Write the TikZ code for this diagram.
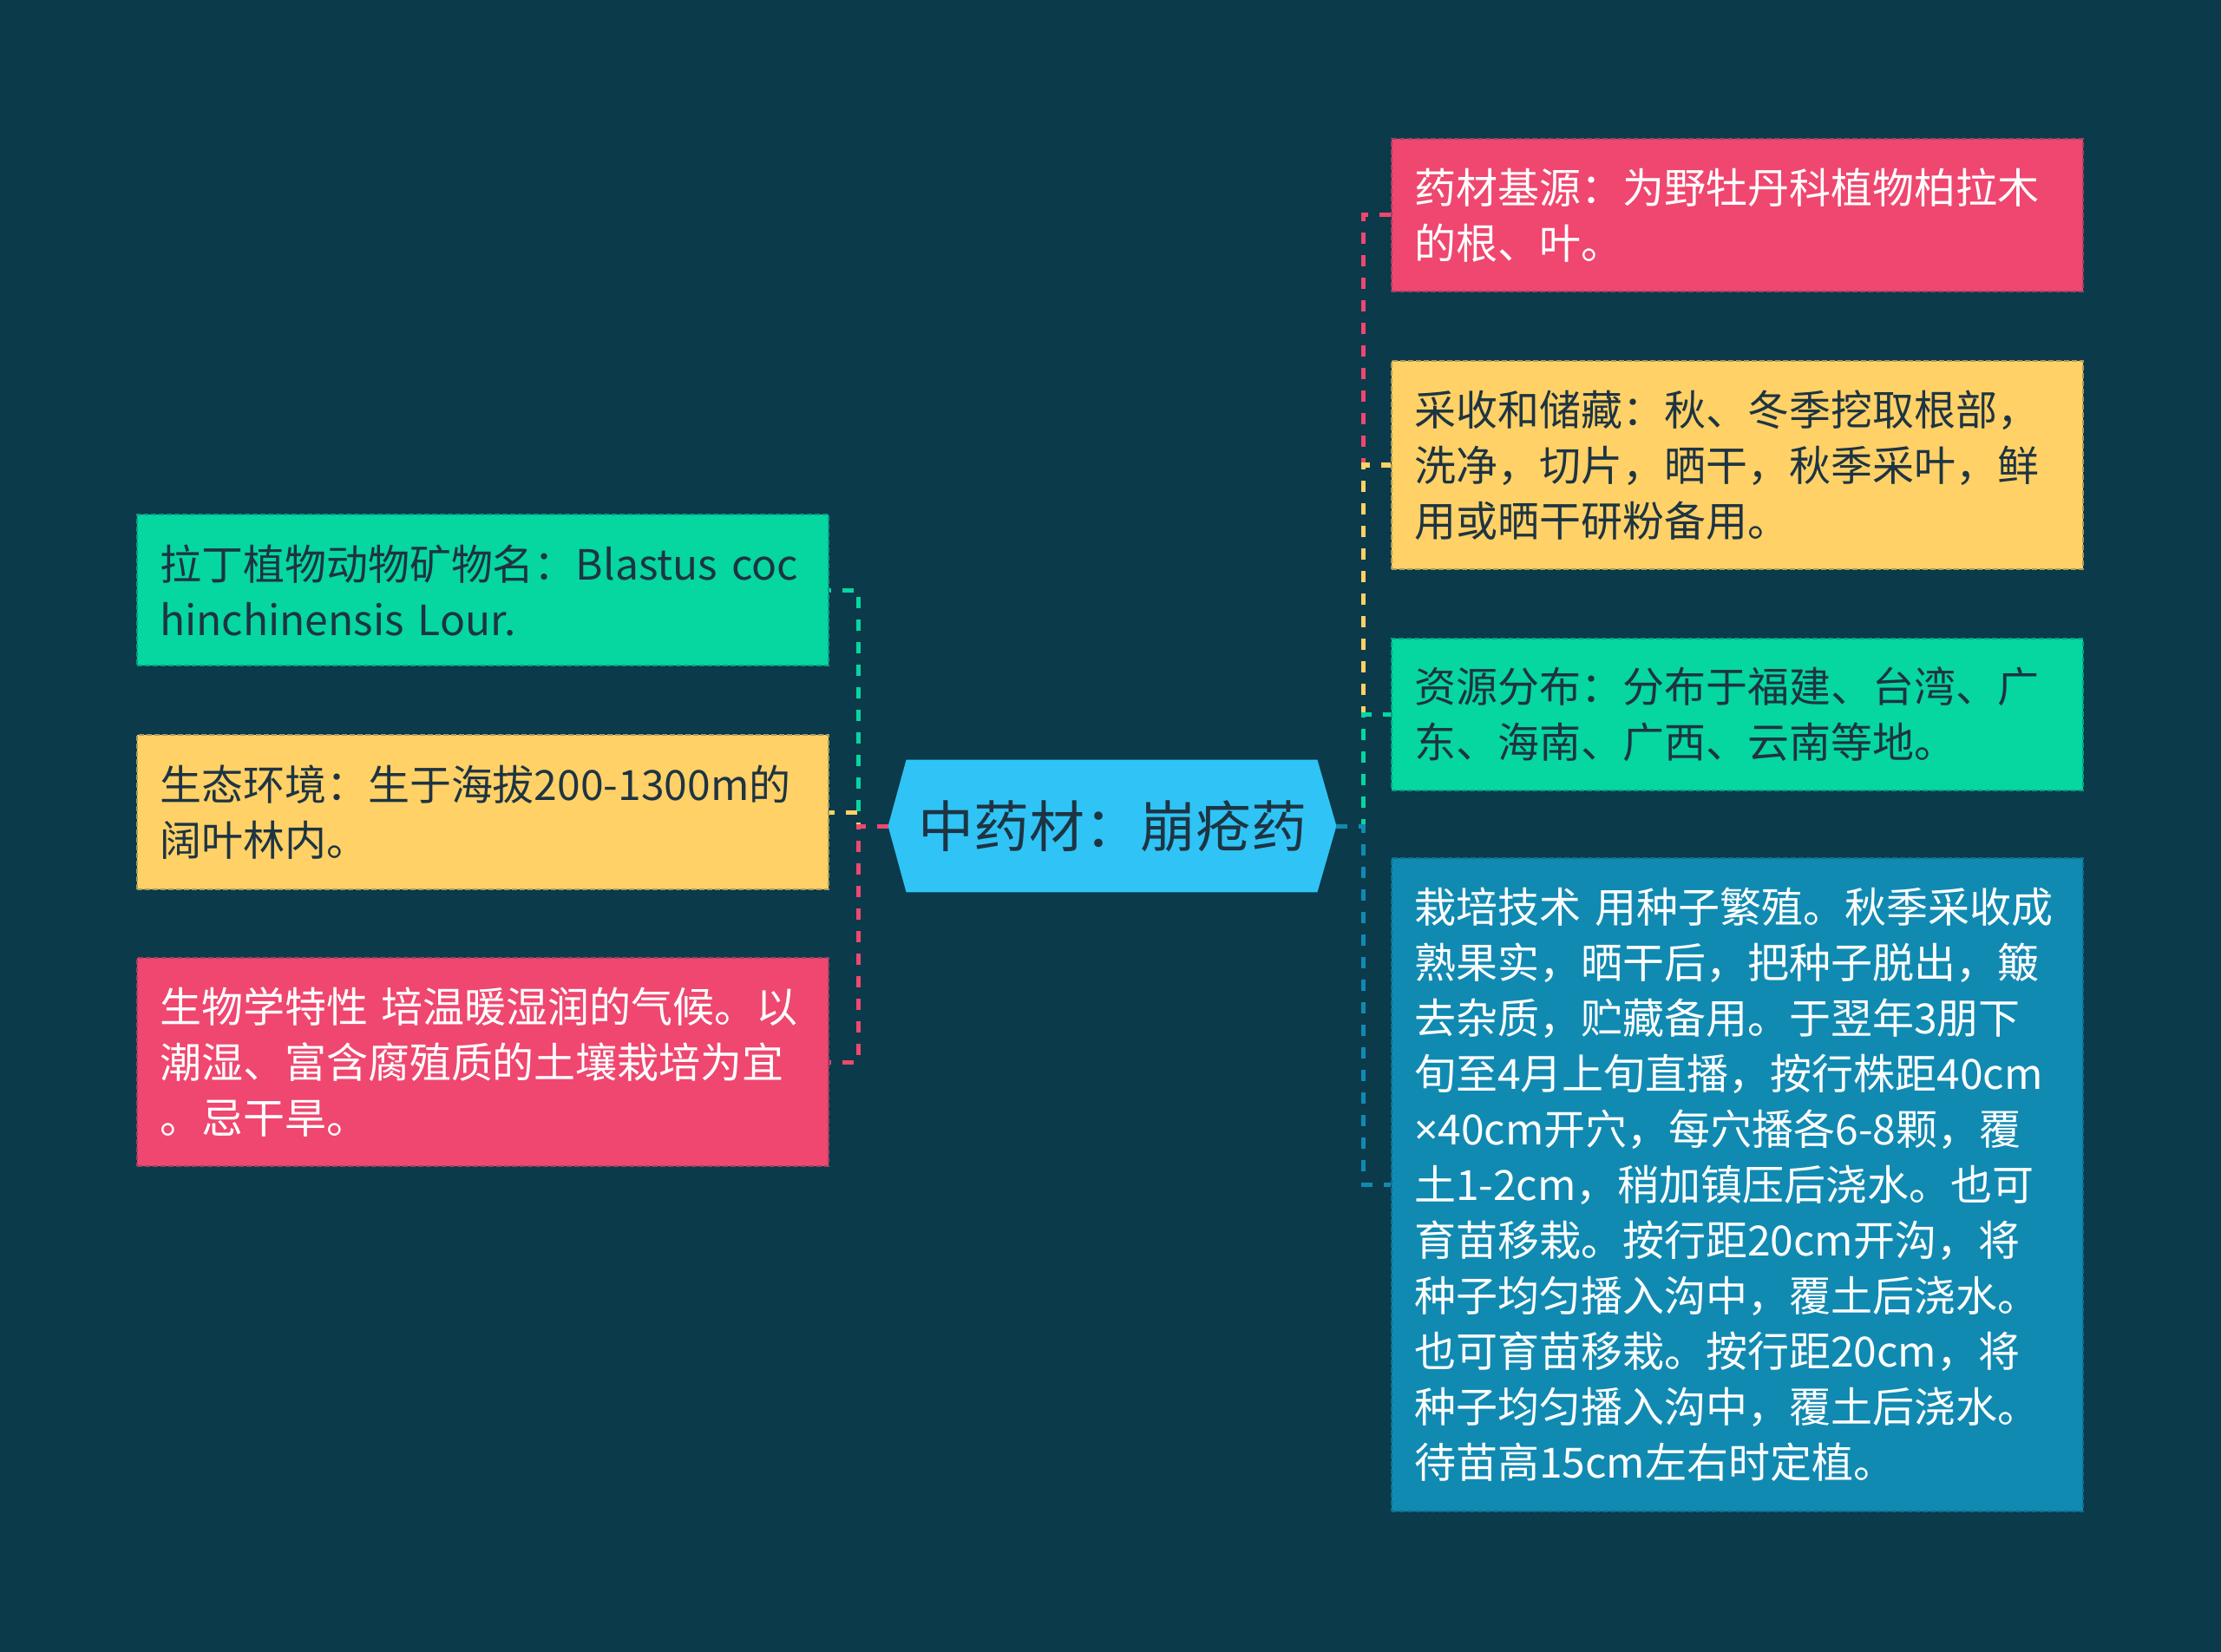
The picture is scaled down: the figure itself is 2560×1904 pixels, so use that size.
\documentclass[tikz,border=0pt]{standalone}
\usepackage{fontspec}
\setmainfont{Noto Sans CJK SC}
\newfontfamily\latinfont{Noto Sans}
\usetikzlibrary{backgrounds}
\definecolor{bgc}{HTML}{0B3A4B}
\definecolor{cpink}{HTML}{EF476F}
\definecolor{cyellow}{HTML}{FFD166}
\definecolor{cgreen}{HTML}{06D6A0}
\definecolor{cblue}{HTML}{118AB2}
\definecolor{ccenter}{HTML}{2FC4F5}
\definecolor{cdark}{HTML}{1E3442}
\tikzset{
  box/.style={minimum width=398.5pt, text width=372.5pt, inner xsep=13pt, inner ysep=0pt,
    align=left, font=\fontsize{24pt}{32pt}\selectfont, line width=1pt, dash pattern=on 3pt off 1.5pt},
  pinkbox/.style={box, fill=cpink, draw=cpink!65!bgc, text=white},
  yellowbox/.style={box, fill=cyellow, draw=cyellow!65!bgc, text=cdark},
  greenbox/.style={box, fill=cgreen, draw=cgreen!65!bgc, text=cdark},
  bluebox/.style={box, fill=cblue, draw=cblue!65!bgc, text=white},
  centernode/.style={minimum width=258pt, minimum height=76pt, inner sep=0pt,
    font=\fontsize{32pt}{40pt}\selectfont, text=cdark},
  conn/.style={line width=2.5pt, dash pattern=on 6.5pt off 6.5pt},
}
\begin{document}
\begin{tikzpicture}[x=0.5pt,y=-0.5pt]
\useasboundingbox (0,0) rectangle (2560,1904);
% nodes
\node[centernode] (c) at (1282,952) {中药材：崩疮药};
\node[greenbox, minimum height=87pt] (L1) at (556.5,680) {拉丁植物动物矿物名：Blastus coc\\hinchinensis Lour.};
\node[yellowbox, minimum height=89pt] (L2) at (556.5,936) {生态环境：生于海拔200-1300m的\\阔叶林内。};
\node[pinkbox, minimum height=120pt] (L3) at (556.5,1224) {生物学特性 培温暖湿润的气候。以\\潮湿、富含腐殖质的土壤栽培为宜\\。忌干旱。};
\node[pinkbox, minimum height=88pt] (R1) at (2002.5,248) {药材基源：为野牡丹科植物柏拉木\\的根、叶。};
\node[yellowbox, minimum height=120pt] (R2) at (2002.5,536) {采收和储藏：秋、冬季挖取根部，\\洗净，切片，晒干，秋季采叶，鲜\\用或晒干研粉备用。};
\node[greenbox, minimum height=87.5pt] (R3) at (2002.5,823.5) {资源分布：分布于福建、台湾、广\\东、海南、广西、云南等地。};
\node[bluebox, minimum height=376.5pt] (R4) at (2002.5,1365.5) {栽培技术 用种子繁殖。秋季采收成\\熟果实，晒干后，把种子脱出，簸\\去杂质，贮藏备用。于翌年3朋下\\旬至4月上旬直播，按行株距40cm\\{\latinfont ×}40cm开穴，每穴播各6-8颗，覆\\土1-2cm，稍加镇压后浇水。也可\\育苗移栽。按行距20cm开沟，将\\种子均匀播入沟中，覆土后浇水。\\也可育苗移栽。按行距20cm，将\\种子均匀播入沟中，覆土后浇水。\\待苗高15cm左右时定植。};
% background and hexagon
\begin{pgfonlayer}{background}
\fill[bgc] (0,0) rectangle (2560,1904);
\fill[ccenter] ([xshift=10.5pt]c.north west) -- ([xshift=-11pt]c.north east) -- (c.east)
  -- ([xshift=-11pt]c.south east) -- ([xshift=10.5pt]c.south west) -- (c.west) -- cycle;
\end{pgfonlayer}
% connectors
\coordinate (lj) at (989,952);
\coordinate (rj) at (1571,952);
\draw[conn, cgreen] (c.west) -- (lj) |- (L1.east);
\draw[conn, cyellow] (c.west) -- (lj) |- (L2.east);
\draw[conn, cpink] (c.west) -- (lj) |- (L3.east);
\draw[conn, cpink] (c.east) -- (rj) |- (R1.west);
\draw[conn, cyellow] (c.east) -- (rj) |- (R2.west);
\draw[conn, cgreen] (c.east) -- (rj) |- (R3.west);
\draw[conn, cblue] (c.east) -- (rj) |- (R4.west);
\end{tikzpicture}
\end{document}
